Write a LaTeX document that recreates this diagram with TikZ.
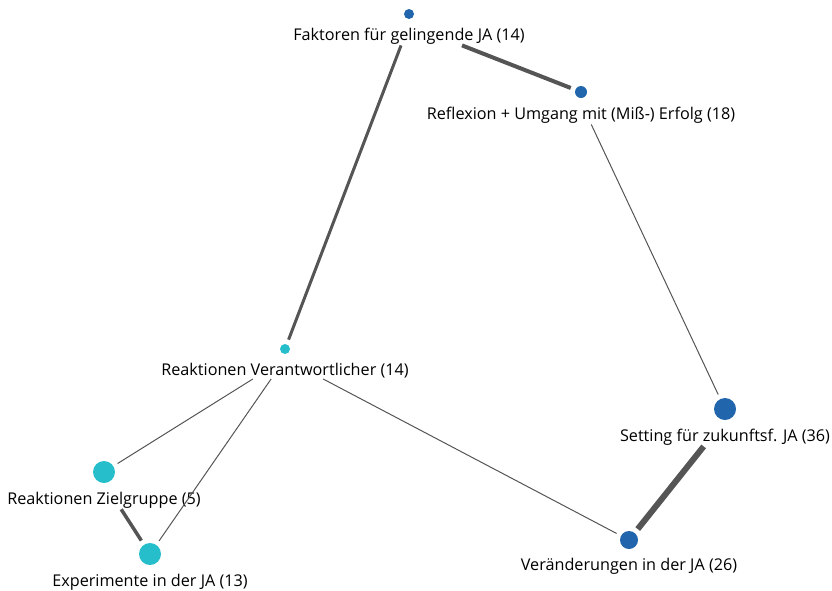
\documentclass[tikz,border=0pt]{standalone}
\usepackage{fontspec}
\setmainfont{Open Sans}
\usetikzlibrary{positioning,fit}

\definecolor{dotblue}{RGB}{33,102,172}
\definecolor{dotcyan}{RGB}{38,190,202}
\definecolor{edgegray}{RGB}{85,85,85}

\tikzset{
  dot/.style={circle,inner sep=0pt,outer sep=5pt,fill=#1},
  lbl/.style={inner sep=1pt,font=\fontsize{16.2}{18}\selectfont},
  grp/.style={inner sep=0pt},
  link/.style={draw=edgegray,line width=#1},
}

\begin{document}
\begin{tikzpicture}[x=1pt,y=-1pt]
\useasboundingbox (0,0) rectangle (832,590);
% dots
\node[dot=dotblue,minimum size=10pt] (fk-d) at (409,14) {};
\node[dot=dotblue,minimum size=12pt] (rf-d) at (581,92) {};
\node[dot=dotcyan,minimum size=10pt] (vr-d) at (285,349) {};
\node[dot=dotblue,minimum size=22pt] (st-d) at (725,409) {};
\node[dot=dotcyan,minimum size=22pt] (zg-d) at (104,472) {};
\node[dot=dotcyan,minimum size=22pt] (ex-d) at (150,554) {};
\node[dot=dotblue,minimum size=18pt] (vd-d) at (629,540) {};
% labels
\node[lbl,below=2.5pt of fk-d] (fk-l) {Faktoren für gelingende JA (14)};
\node[lbl,below=2.5pt of rf-d] (rf-l) {Reflexion + Umgang mit (Miß-) Erfolg (18)};
\node[lbl,below=2.5pt of vr-d] (vr-l) {Reaktionen Verantwortlicher (14)};
\node[lbl,below=2.5pt of st-d] (st-l) {Setting für zukunftsf. JA (36)};
\node[lbl,below=2.5pt of zg-d] (zg-l) {Reaktionen Zielgruppe (5)};
\node[lbl,below=2.5pt of ex-d] (ex-l) {Experimente in der JA (13)};
\node[lbl,below=2.5pt of vd-d] (vd-l) {Veränderungen in der JA (26)};
% groups
\node[grp,fit=(fk-d)(fk-l)] (fk) {};
\node[grp,fit=(rf-d)(rf-l)] (rf) {};
\node[grp,fit=(vr-d)(vr-l)] (vr) {};
\node[grp,fit=(st-d)(st-l)] (st) {};
\node[grp,fit=(zg-d)(zg-l)] (zg) {};
\node[grp,fit=(ex-d)(ex-l)] (ex) {};
\node[grp,fit=(vd-d)(vd-l)] (vd) {};
% links
\draw[link=3pt] (fk) -- (vr-d);
\draw[link=4pt] (fk) -- (rf-d);
\draw[link=1pt] (rf) -- (st-d);
\draw[link=1pt] (vr) -- (zg-d);
\draw[link=1pt] (vr) -- (ex-d);
\draw[link=1pt] (vr) -- (vd-d);
\draw[link=6pt] (st) -- (vd-d);
\draw[link=3.5pt] (zg) -- (ex-d);
\end{tikzpicture}
\end{document}
